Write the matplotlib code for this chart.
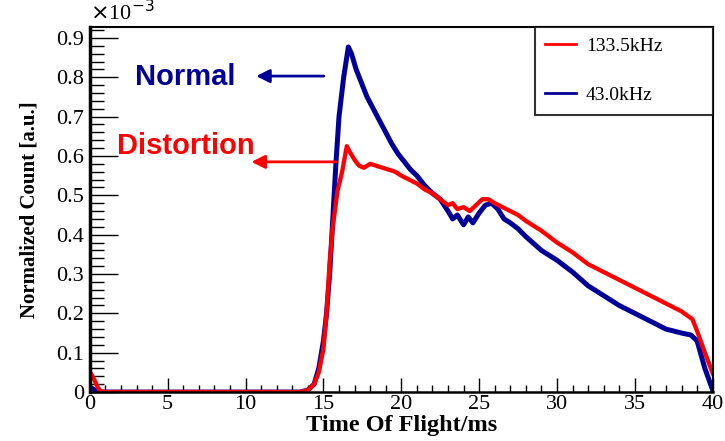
import numpy as np
import matplotlib.pyplot as plt
from matplotlib.ticker import MultipleLocator

## Data (y in units of 1e-3)
tof_red = [0, 0.1, 0.3, 0.5, 0.7, 1, 13.5, 14.0, 14.4, 14.7, 15.0, 15.2, 15.4, 15.6, 15.9, 16.2, 16.5,
           16.7, 17.0, 17.3, 17.6, 18.0, 18.4, 18.8, 19.2, 19.6, 20.0, 20.5, 21.0, 21.5, 22.0, 22.5,
           23.0, 23.3, 23.6, 24.0, 24.4, 24.8, 25.2, 25.6, 26.0, 26.5, 27.0, 27.5, 28.0, 29.0, 30.0,
           31.0, 32.0, 33.0, 34.0, 35.0, 36.0, 37.0, 38.0, 38.7, 39.0, 39.5, 40.0]
count_red = [0.05, 0.045, 0.03, 0.012, 0.002, 0, 0, 0.005, 0.02, 0.05, 0.11, 0.2, 0.33, 0.42, 0.51,
             0.56, 0.625, 0.61, 0.59, 0.575, 0.57, 0.58, 0.575, 0.57, 0.565, 0.56, 0.55, 0.54, 0.53,
             0.515, 0.505, 0.49, 0.475, 0.48, 0.465, 0.47, 0.46, 0.475, 0.49, 0.49, 0.48, 0.47, 0.46,
             0.45, 0.435, 0.41, 0.38, 0.355, 0.325, 0.305, 0.285, 0.265, 0.245, 0.225, 0.205, 0.185,
             0.155, 0.10, 0.048]

tof_blue = [0, 0.2, 0.4, 0.6, 1, 13.5, 14.0, 14.4, 14.7, 15.0, 15.2, 15.4, 15.6, 15.8, 16.0, 16.3,
            16.6, 16.8, 17.1, 17.4, 17.8, 18.2, 18.6, 19.0, 19.4, 19.8, 20.2, 20.6, 21.0, 21.5, 22.0,
            22.5, 23.0, 23.3, 23.6, 24.0, 24.3, 24.6, 25.0, 25.4, 25.8, 26.2, 26.6, 27.0, 27.5, 28.0,
            29.0, 30.0, 31.0, 32.0, 33.0, 34.0, 35.0, 36.0, 37.0, 38.0, 38.6, 39.0, 39.5, 40.0]
count_blue = [0.012, 0.008, 0.003, 0, 0, 0, 0.005, 0.02, 0.06, 0.13, 0.2, 0.3, 0.44, 0.58, 0.7, 0.8,
              0.877, 0.86, 0.82, 0.79, 0.75, 0.72, 0.69, 0.66, 0.63, 0.605, 0.585, 0.565, 0.55,
              0.525, 0.505, 0.49, 0.46, 0.44, 0.45, 0.425, 0.445, 0.43, 0.455, 0.475, 0.48, 0.465,
              0.44, 0.43, 0.415, 0.395, 0.36, 0.335, 0.305, 0.27, 0.245, 0.22, 0.2, 0.18, 0.16, 0.15,
              0.145, 0.13, 0.06, 0.005]

labels = ['133.5kHz', '43.0kHz']
red = '#ff0000'
navy = '#000099'
serif = 'Liberation Serif'
sans = 'Liberation Sans'

fig = plt.figure(figsize=(7.25, 4.41), dpi=100)
ax = fig.add_axes([0.124, 0.111, 0.859, 0.828])

ax.plot(tof_blue, count_blue, color=navy, lw=3.6, label=labels[1])
ax.plot(tof_red, count_red, color=red, lw=3.1, label=labels[0])

ax.set_xlim(0, 40)
ax.set_ylim(0, 0.928)

## ROOT-like ticks
ax.xaxis.set_major_locator(MultipleLocator(5))
ax.xaxis.set_minor_locator(MultipleLocator(1))
ax.yaxis.set_minor_locator(MultipleLocator(0.02))
ax.tick_params(axis='x', which='major', direction='in', length=10, width=1, labelsize=16, pad=2)
ax.tick_params(axis='x', which='minor', direction='in', length=5, width=1)
ax.tick_params(axis='y', which='major', direction='in', length=20, width=1, labelsize=16, pad=4)
ax.tick_params(axis='y', which='minor', direction='in', length=10, width=1)
ax.set_yticks(np.arange(0, 0.95, 0.1))
ax.set_yticklabels(['0'] + ['%.1f' % v for v in np.arange(0.1, 0.95, 0.1)])
for lab in ax.get_xticklabels() + ax.get_yticklabels():
    lab.set_fontfamily(serif)

ax.spines['left'].set_linewidth(2.5)
ax.spines['bottom'].set_linewidth(1.8)
ax.spines['top'].set_linewidth(1.5)
ax.spines['right'].set_linewidth(1.5)

ax.set_xlabel('Time Of Flight/ms', fontfamily=serif, fontweight='bold', fontsize=17.5, labelpad=1)
ax.set_ylabel('Normalized Count [a.u.]', fontfamily=serif, fontweight='bold', fontsize=15, labelpad=12)
ax.text(0, 1.005, r'$\times$10$^{-3}$', transform=ax.transAxes, fontfamily=serif, fontsize=16,
        ha='left', va='bottom')

## annotations
ax.annotate('', xy=(10.5, 0.803), xytext=(15.2, 0.803),
            arrowprops=dict(arrowstyle='-|>', color=navy, lw=2, mutation_scale=20))
ax.text(6.1, 0.80, 'Normal', color=navy, fontfamily=sans, fontweight='bold', fontsize=21,
        ha='center', va='center')
ax.annotate('', xy=(10.2, 0.585), xytext=(16.0, 0.585),
            arrowprops=dict(arrowstyle='-|>', color=red, lw=2, mutation_scale=20))
ax.text(6.15, 0.625, 'Distortion', color=red, fontfamily=sans, fontweight='bold', fontsize=21,
        ha='center', va='center')

## legend box
h, l = ax.get_legend_handles_labels()
leg = ax.legend(h[::-1], l[::-1], loc='upper left', bbox_to_anchor=(0.714, 0.751, 0.286, 0.249),
                mode='expand', frameon=True, fancybox=False, edgecolor='black',
                prop={'family': serif, 'size': 14}, handlelength=1.6, handletextpad=0.5,
                labelspacing=1.6, borderpad=0.55, borderaxespad=0)
leg.get_frame().set_linewidth(1.5)
for line in leg.get_lines():
    line.set_linewidth(2)

fig.savefig('out.png', dpi=100)
